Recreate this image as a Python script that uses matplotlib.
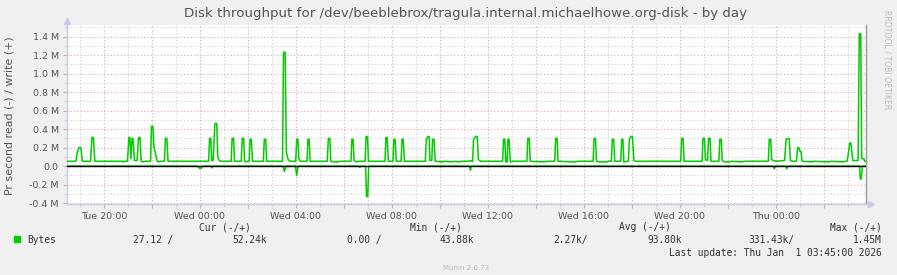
import matplotlib
matplotlib.use("Agg")
import matplotlib.pyplot as plt
import numpy as np

W, H = 897, 275

# time in hours relative to Wed 00:00, values in MB/s
x_start, x_end = -5.54, 27.75
tick_hours = [-4, 0, 4, 8, 12, 16, 20, 24]
tick_labels = ['Tue 20:00', 'Wed 00:00', 'Wed 04:00', 'Wed 08:00',
               'Wed 12:00', 'Wed 16:00', 'Wed 20:00', 'Thu 00:00']
y_ticks = [-0.4, -0.2, 0.0, 0.2, 0.4, 0.6, 0.8, 1.0, 1.2, 1.4]
y_labels = ['-0.4 M', '-0.2 M', '0.0', '0.2 M', '0.4 M', '0.6 M',
            '0.8 M', '1.0 M', '1.2 M', '1.4 M']

# write (+) series
write_t = [-5.54, -5.17, -5.11, -5.04, -4.96, -4.90, -4.56, -4.50, -4.44, -4.38,
           -3.25, -3.19, -3.13, -3.02, -2.96, -2.92, -2.88, -2.83, -2.79, -2.73,
           -2.62, -2.56, -2.50, -2.45, -2.36, -2.29, -2.06, -2.02, -1.96, -1.92,
           -1.78, -1.71, -1.65, -1.48, -1.44, -1.38, -1.33,
           0.36, 0.40, 0.45, 0.49, 0.55, 0.62, 0.70, 0.74, 0.80, 0.88,
           1.30, 1.34, 1.40, 1.44, 1.72, 1.76, 1.82, 1.86, 1.93, 1.99,
           2.05, 2.09, 2.14, 2.19, 2.64, 2.68, 2.74, 2.78,
           3.44, 3.48, 3.55, 3.60, 3.66, 3.74, 3.99, 4.03, 4.08, 4.12, 4.18,
           4.46, 4.50, 4.55, 4.59, 5.30, 5.35, 5.41, 5.45, 5.55, 5.75, 5.85,
           6.29, 6.33, 6.38, 6.42, 6.50, 6.62, 6.88, 6.92, 6.98, 7.02,
           7.71, 7.75, 7.80, 7.85, 8.04, 8.08, 8.13, 8.18, 8.38, 8.42, 8.47, 8.52,
           9.39, 9.43, 9.50, 9.55, 9.58, 9.66, 9.69, 9.75, 9.80,
           10.1, 10.2, 10.5, 10.6, 10.8, 10.9, 11.20, 11.28, 11.33,
           11.36, 11.40, 11.50, 11.55, 11.60, 11.70,
           12.61, 12.65, 12.70, 12.74, 12.80, 12.83, 12.88, 12.93, 13.05,
           13.62, 13.66, 13.72, 13.76, 14.35, 14.45, 14.78, 14.82, 14.88, 14.92,
           15.65, 15.75, 16.38, 16.42, 16.48, 16.52, 16.65, 16.95, 17.0,
           17.14, 17.18, 17.24, 17.28, 17.53, 17.57, 17.62, 17.66,
           17.85, 17.89, 17.96, 18.02, 18.08, 18.15,
           20.03, 20.07, 20.13, 20.17, 20.92, 20.96, 21.02, 21.06, 21.15, 21.19,
           21.25, 21.29, 21.62, 21.66, 21.72, 21.76, 21.85,
           22.05, 22.15, 22.6, 22.7, 23.68, 23.72, 23.78, 23.82, 23.90, 24.00,
           24.36, 24.42, 24.55, 24.60, 24.70, 24.85, 24.90, 24.95, 25.00, 25.04, 25.09,
           25.5, 25.6, 26.2, 26.3, 26.8, 26.9, 26.96, 27.0, 27.07, 27.12, 27.2,
           27.42, 27.47, 27.53, 27.57, 27.66, 27.70, 27.75]
write_v = [.052, .052, .15, .20, .20, .052, .052, .31, .31, .052,
           .052, .045, .052, .052, .31, .31, .08, .30, .30, .06,
           .06, .31, .31, .052, .045, .052, .052, .43, .43, .21,
           .052, .045, .052, .052, .30, .30, .052,
           .052, .30, .30, .06, .06, .46, .46, .10, .06, .052,
           .052, .30, .30, .052, .052, .30, .30, .052, .045, .052,
           .052, .29, .29, .052, .052, .29, .29, .052,
           .052, 1.23, 1.23, .15, .08, .052, .052, .29, .29, .08, .052,
           .052, .29, .29, .052, .052, .30, .30, .052, .045, .045, .052,
           .052, .29, .29, .06, .045, .052, .052, .32, .32, .052,
           .052, .31, .31, .052, .052, .29, .29, .052, .052, .29, .29, .052,
           .052, .29, .32, .32, .06, .06, .29, .29, .052,
           .045, .052, .045, .052, .045, .052, .052, .06, .052,
           .052, .29, .32, .32, .07, .052,
           .052, .29, .29, .045, .045, .29, .29, .045, .052,
           .052, .30, .30, .052, .045, .052, .052, .30, .30, .052,
           .045, .052, .052, .30, .30, .052, .045, .045, .052,
           .052, .29, .29, .052, .052, .29, .29, .045,
           .052, .29, .32, .32, .06, .052,
           .052, .30, .30, .052, .052, .30, .30, .07, .06, .30,
           .30, .052, .052, .29, .29, .06, .045,
           .045, .052, .045, .052, .052, .29, .29, .07, .06, .052,
           .06, .29, .30, .06, .052, .052, .20, .20, .16, .16, .052,
           .045, .052, .045, .052, .045, .052, .052, .11, .25, .25, .06,
           .06, 1.43, 1.43, .08, .08, .052, .052]

# read (-) series
read_t = [-5.54, -0.10, -0.05, 0.05, 0.12, 0.46, 0.50, 0.55,
          3.46, 3.52, 3.58, 3.98, 4.03, 4.09, 6.62, 6.66, 6.71,
          6.90, 6.94, 6.99, 7.03, 11.22, 11.27, 11.32,
          23.88, 23.93, 23.98, 24.40, 24.45, 24.50,
          27.48, 27.51, 27.55, 27.60, 27.75]
read_v = [0, 0, -.02, -.025, 0, 0, -.02, 0,
          0, -.06, 0, 0, -.10, 0, 0, -.015, 0,
          0, -.33, -.33, 0, 0, -.045, 0,
          0, -.03, 0, 0, -.03, 0,
          0, -.14, -.14, 0, 0]

bg = '#F0F0F0'
txt = '#555555'
major_c = '#E3A4A4'
minor_c = '#CFCFCF'
axis_c = '#C8C8EC'
green = '#00CC00'

fig = plt.figure(figsize=(W / 100, H / 100), dpi=100, facecolor=bg)
ax = fig.add_axes([67 / W, 71 / H, 799 / W, 179 / H])
ax.set_facecolor('white')

ax.plot(read_t, read_v, color=green, lw=1.1, zorder=3)
ax.plot(write_t, write_v, color=green, lw=1.1, zorder=3)
ax.axhline(0, color='black', lw=1.0, zorder=4)

ax.set_xlim(x_start, x_end)
ax.set_ylim(-0.41, 1.525)

# grid: red every 2 h / 0.2 M, grey every 1 h / 0.1 M
major_x = np.arange(-4, 28, 2)
minor_x = np.arange(-5, 28, 1)
ax.set_xticks(major_x)
ax.set_xticklabels([tick_labels[tick_hours.index(h)] if h in tick_hours else ''
                    for h in major_x])
ax.set_xticks(minor_x, minor=True)
ax.set_yticks(y_ticks)
ax.set_yticklabels(y_labels)
ax.set_yticks(np.arange(-0.3, 1.55, 0.2), minor=True)

ax.grid(which='major', color=major_c, linestyle=(0, (1, 2)), lw=0.8, zorder=1)
ax.grid(which='minor', color=minor_c, linestyle=(0, (1, 2)), lw=0.8, zorder=1)

ax.tick_params(which='major', length=3, width=0.8, color=major_c,
               labelsize=6.8, labelcolor=txt, pad=3)
ax.tick_params(which='minor', length=2, width=0.8, color=minor_c)

ax.spines['top'].set_visible(False)
ax.spines['left'].set_color(axis_c)
ax.spines['bottom'].set_color(axis_c)
ax.spines['right'].set_color('#9A9A9A')
for s in ['left', 'bottom', 'right']:
    ax.spines[s].set_linewidth(1.0)

# axis arrows
ax.plot([0], [1.02], marker='^', color=axis_c, ms=5, transform=ax.transAxes,
        clip_on=False)
ax.plot([1.006], [0], marker='>', color=axis_c, ms=5, transform=ax.transAxes,
        clip_on=False)


def px(x, y):
    return x / W, 1 - y / H


fig.text(*px(466, 14), 'Disk throughput for /dev/beeblebrox/tragula.internal.michaelhowe.org-disk - by day',
         ha='center', va='center', fontsize=9.6, color=txt)
fig.text(*px(10, 116), 'Pr second read (-) / write (+)', rotation=90,
         ha='center', va='center', fontsize=7.9, color=txt)
fig.text(*px(887, 60), 'RRDTOOL / TOBI OETIKER', rotation=270,
         ha='center', va='center', fontsize=5.6, color='#BDBDBD')

mono = dict(family='DejaVu Sans Mono', fontsize=6.9, color='#333333', va='center')
fig.text(*px(251, 227), 'Cur (-/+)', ha='right', **mono)
fig.text(*px(462, 227), 'Min (-/+)', ha='right', **mono)
fig.text(*px(671, 227), 'Avg (-/+)', ha='right', **mono)
fig.text(*px(882, 227), 'Max (-/+)', ha='right', **mono)

fig.patches.append(plt.Rectangle(px(14, 242), 6 / W, 6 / H, color=green,
                                 transform=fig.transFigure, figure=fig))
fig.text(*px(27, 240), 'Bytes', ha='left', **mono)
legend_vals = ['27.12 /', '52.24k', '0.00 /', '43.88k',
               '2.27k/', '93.80k', '331.43k/', '1.45M']
legend_right = [173, 267, 381, 474, 588, 682, 794, 882]
for v, r in zip(legend_vals, legend_right):
    fig.text(*px(r, 240), v, ha='right', **mono)
fig.text(*px(882, 253), 'Last update: Thu Jan  1 03:45:00 2026', ha='right', **mono)
fig.text(*px(466, 268), 'Munin 2.0.73', ha='center', va='center',
         fontsize=5, color='#BBBBBB')

fig.savefig('out.png', dpi=100, facecolor=bg)
